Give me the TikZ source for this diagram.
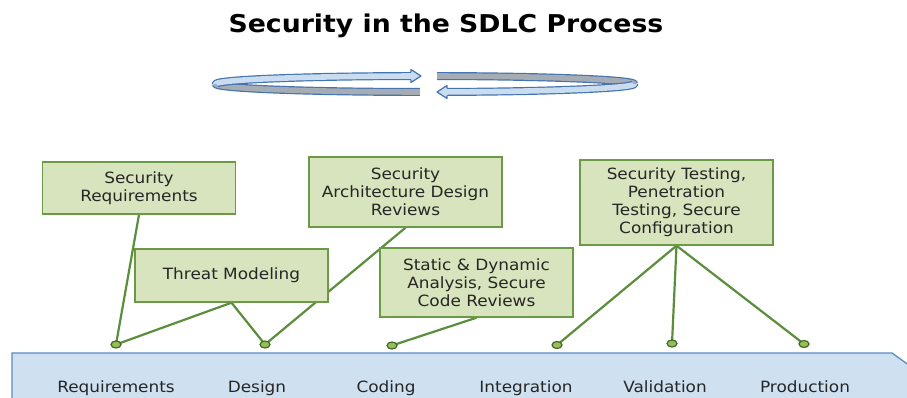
\documentclass[tikz,border=0pt]{standalone}
\usepackage{fontspec}
\setmainfont{DejaVu Sans}[FakeStretch=1.09]
\usetikzlibrary{shapes.geometric,backgrounds}
\definecolor{boxfill}{HTML}{D7E4BD}
\definecolor{boxdraw}{HTML}{6A9A45}
\definecolor{linkc}{HTML}{5A8E3A}
\definecolor{dotfill}{HTML}{9BBB59}
\definecolor{dotdraw}{HTML}{3E6B2A}
\definecolor{barfill}{HTML}{CFE0F1}
\definecolor{bardraw}{HTML}{5C8AC2}
\definecolor{ribfront}{HTML}{C9DCF0}
\definecolor{ribback}{HTML}{A5ACB3}
\definecolor{ribdraw}{HTML}{4373B0}
\definecolor{txt}{HTML}{262626}
\begin{document}
\begin{tikzpicture}[x=1pt,y=-1pt,
  box/.style={draw=boxdraw, line width=1.4pt, fill=boxfill, align=center, text=txt,
    font=\fontsize{15.5}{18}\selectfont, inner sep=0pt, minimum width=193pt},
  dot/.style={ellipse, draw=dotdraw, line width=1.2pt, fill=dotfill, inner sep=0pt,
    minimum width=10pt, minimum height=7pt},
  link/.style={draw=linkc, line width=2.2pt},
  phase/.style={anchor=base, text=txt, font=\fontsize{15.5}{18}\selectfont},
  ribout/.style={draw=ribdraw, line width=8pt},
  ribgray/.style={draw=ribback, line width=5.6pt},
  ribblue/.style={draw=ribfront, line width=5.6pt}]
\useasboundingbox (0,0) rectangle (907,398);
\clip (0,0) rectangle (907,398);

% title
\node[anchor=base, font=\fontsize{24.5}{28}\selectfont\bfseries] (title) at (446,33) {Security in the SDLC Process};

% circular ribbon arrows
\draw[ribout] plot[domain=91.4:180, samples=60, variable=\t] ({425+209*cos(\t)},{84+8*sin(\t)});
\draw[ribgray] plot[domain=91.4:180, samples=60, variable=\t] ({425+209*cos(\t)},{84+8*sin(\t)});
\draw[ribout] plot[domain=179:266.2, samples=60, variable=\t] ({425+209*cos(\t)},{84+8*sin(\t)});
\draw[ribblue] plot[domain=179:266.2, samples=60, variable=\t] ({425+209*cos(\t)},{84+8*sin(\t)});
\fill[ribfront] (411,69.5) -- (421,76) -- (411,82.5) -- cycle;
\draw[ribdraw, line width=1.2pt, line join=round] (411,79.6) -- (411,82.5) -- (421,76) -- (411,69.5) -- (411,72.4);

\draw[ribout] plot[domain=273.3:360, samples=60, variable=\t] ({425+209*cos(\t)},{84+8*sin(\t)});
\draw[ribgray] plot[domain=273.3:360, samples=60, variable=\t] ({425+209*cos(\t)},{84+8*sin(\t)});
\draw[ribout] plot[domain=-1:84, samples=60, variable=\t] ({425+209*cos(\t)},{84+8*sin(\t)});
\draw[ribblue] plot[domain=-1:84, samples=60, variable=\t] ({425+209*cos(\t)},{84+8*sin(\t)});
\fill[ribfront] (447,85.5) -- (437,92) -- (447,98.5) -- cycle;
\draw[ribdraw, line width=1.2pt, line join=round] (447,88.4) -- (447,85.5) -- (437,92) -- (447,98.5) -- (447,95.6);

% boxes
\node[box, minimum height=52pt] (sreq) at (139,188) {Security\\Requirements};
\node[box, minimum height=53pt] (threat) at (231.5,275.5) {Threat Modeling};
\node[box, minimum height=70pt] (arch) at (405.5,192) {Security\\Architecture Design\\Reviews};
\node[box, minimum height=69pt] (static) at (476.5,282.5) {Static \& Dynamic\\Analysis, Secure\\Code Reviews};
\node[box, minimum height=85pt] (test) at (676.5,202.5) {Security Testing,\\Penetration\\Testing, Secure\\Configuration};

% dots
\node[dot] (dreq) at (116,344.5) {};
\node[dot] (ddes) at (265,344.5) {};
\node[dot] (dcod) at (392,345.5) {};
\node[dot] (dint) at (557,345) {};
\node[dot] (dval) at (672,343.5) {};
\node[dot] (dpro) at (804,344) {};

% phase labels
\node[phase] (lreq) at (116,392) {Requirements};
\node[phase] (ldes) at (257,392) {Design};
\node[phase] (lcod) at (386,392) {Coding};
\node[phase] (lint) at (526,392) {Integration};
\node[phase] (lval) at (665,392) {Validation};
\node[phase] (lpro) at (805,392) {Production};

\begin{scope}[on background layer]
  \filldraw[fill=barfill, draw=bardraw, line width=1.3pt]
    (12,353) -- (892,353) -- (938,386) -- (892,419) -- (12,419) -- cycle;
  \draw[link] (sreq.south) -- (dreq.center);
  \draw[link] (threat.south) -- (dreq.center);
  \draw[link] (threat.south) -- (ddes.center);
  \draw[link] (arch.south) -- (ddes.center);
  \draw[link] (static.south) -- (dcod.center);
  \draw[link] (test.south) -- (dint.center);
  \draw[link] (test.south) -- (dval.center);
  \draw[link] (test.south) -- (dpro.center);
\end{scope}
\end{tikzpicture}
\end{document}
